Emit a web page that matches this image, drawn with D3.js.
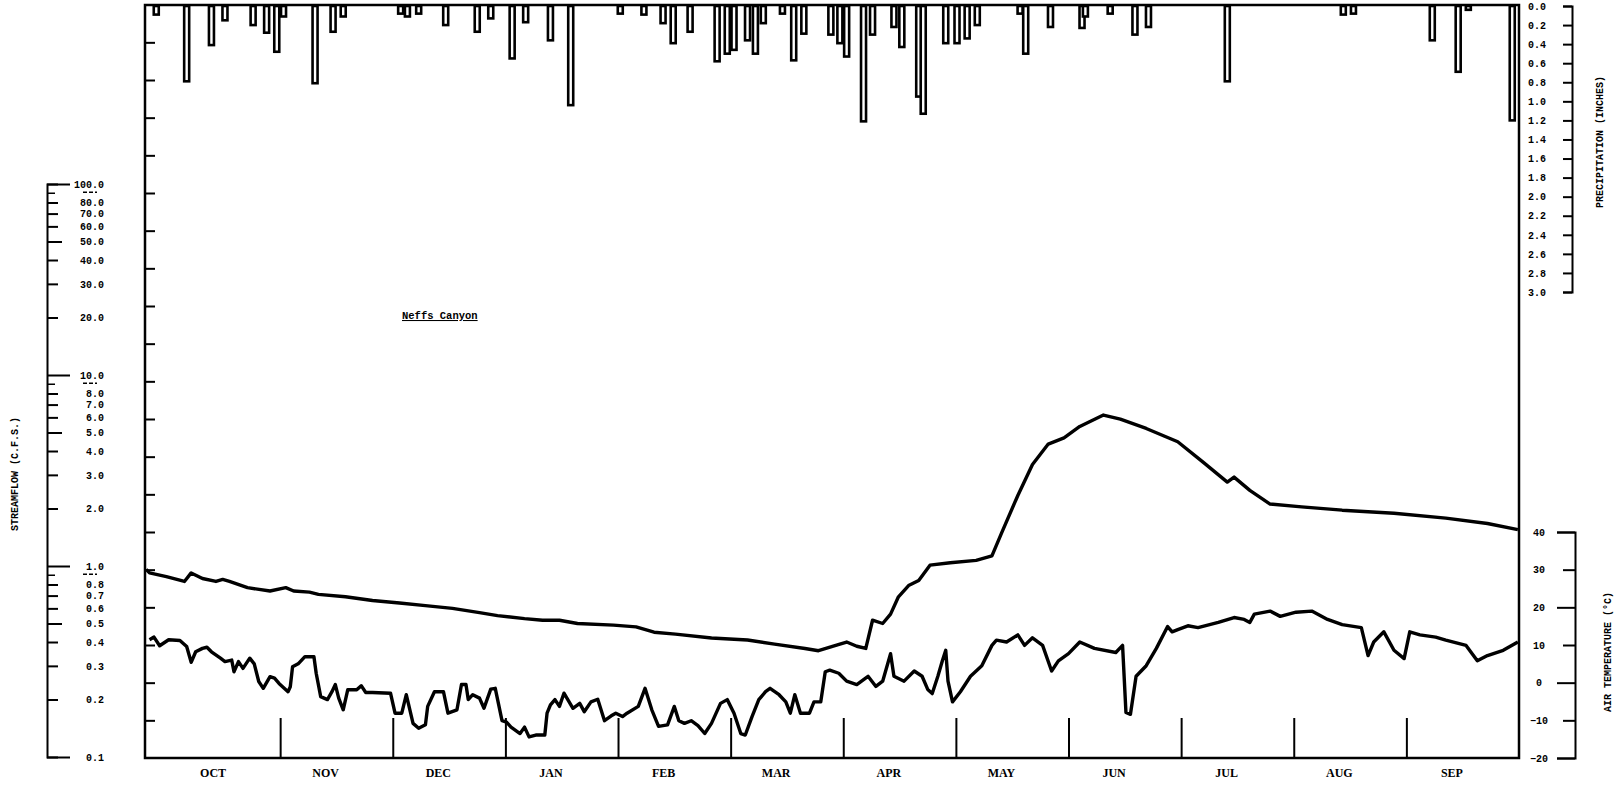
<!DOCTYPE html>
<html>
<head>
<meta charset="utf-8">
<script src="https://cdn.jsdelivr.net/npm/d3@7"></script>
<style>
  body { margin: 0; background: #fff; }
  svg { display: block; }
  .mono { font-family: "Liberation Mono", "DejaVu Sans Mono", monospace; font-weight: bold; }
</style>
</head>
<body>
<svg id="chart" width="1619" height="788"></svg>
<script>
// Water-year months (position 0 = Oct 1, 12 = Sep 30 end)
const months = ["OCT","NOV","DEC","JAN","FEB","MAR","APR","MAY","JUN","JUL","AUG","SEP"];

// Streamflow (c.f.s.), position in months
const flowPos = [-0.19,-0.16,-0.01,0.15,0.21,0.31,0.43,0.49,0.55,0.71,0.91,1.05,1.12,1.26,1.34,1.58,1.82,2.06,2.29,2.53,2.77,2.93,3.17,3.33,3.48,3.64,3.96,4.16,4.32,4.51,4.83,5.15,5.39,5.66,5.78,5.97,
  6.03,6.12,6.20,6.26,6.35,6.42,6.49,6.58,6.67,6.77,6.95,7.18,7.32,7.41,7.55,7.68,7.82,7.96,8.10,8.31,8.46,8.69,8.97,9.20,9.41,9.47,9.61,9.79,10.07,10.43,10.89,11.35,11.72,11.99];
const flowCfs = [0.96,0.92,0.88,0.83,0.92,0.86,0.83,0.85,0.83,0.77,0.74,0.77,0.74,0.73,0.71,0.69,0.66,0.64,0.62,0.60,0.57,0.55,0.53,0.52,0.52,0.50,0.49,0.48,0.45,0.44,0.42,0.41,0.39,0.37,0.36,0.39,
  0.40,0.38,0.37,0.52,0.50,0.56,0.69,0.79,0.84,1.01,1.04,1.07,1.13,1.51,2.34,3.40,4.35,4.69,5.38,6.17,5.87,5.25,4.47,3.48,2.75,2.92,2.49,2.11,2.04,1.96,1.89,1.78,1.67,1.55];

// Daily air temperature (°C), position in months
const tempPos = [-0.16,-0.12,-0.07,0.01,0.11,0.17,0.21,0.25,0.31,0.35,0.39,0.47,0.51,0.57,0.59,0.63,0.67,0.73,0.77,0.81,0.85,0.91,0.95,0.99,1.07,1.09,1.11,1.16,1.22,1.30,1.32,1.36,1.42,1.46,1.49,1.52,1.56,1.60,1.68,1.72,1.76,1.82,1.98,2.02,2.08,2.12,2.18,2.23,2.29,2.31,2.37,2.45,2.49,2.57,2.61,2.65,2.67,2.71,2.77,2.81,2.87,2.91,2.97,3.01,3.05,3.13,3.17,3.21,3.27,3.35,3.37,3.40,3.44,3.48,3.52,3.60,3.66,3.70,3.76,3.82,3.88,3.94,3.98,4.04,4.08,4.18,4.24,4.30,4.36,4.44,4.50,4.54,4.59,4.65,4.71,4.77,4.83,4.91,4.97,5.03,5.09,5.13,5.19,5.25,5.31,5.35,5.43,5.49,5.53,5.57,5.62,5.70,5.74,5.80,5.84,5.88,5.96,
  6.03,6.12,6.22,6.29,6.35,6.42,6.45,6.54,6.63,6.70,6.75,6.79,6.84,6.88,6.91,6.93,6.97,7.04,7.13,7.23,7.32,7.36,7.45,7.55,7.61,7.68,7.77,7.85,7.91,8.00,8.10,8.23,8.42,8.48,8.51,8.55,8.60,8.69,8.78,8.88,8.92,8.97,9.06,9.15,9.33,9.47,9.56,9.61,9.65,9.79,9.88,10.02,10.16,10.30,10.43,10.60,10.66,10.71,10.80,10.89,10.98,11.03,11.12,11.26,11.35,11.53,11.63,11.72,11.86,11.99];
const tempC = [11.4,12.1,9.8,11.4,11.2,9.6,5.4,8.2,9.1,9.4,8.2,6.5,5.6,6.0,2.9,5.6,3.8,6.5,5.0,0.3,-1.5,1.6,1.2,-0.2,-2.4,-1.1,4.2,5.0,6.9,6.9,2.5,-3.7,-4.5,-2.4,-0.5,-4.1,-7.2,-1.9,-1.9,-0.8,-2.6,-2.6,-2.8,-8.1,-8.1,-3.2,-10.8,-12.1,-11.2,-6.3,-2.4,-2.4,-8.1,-7.2,-0.5,-0.5,-4.5,-3.2,-4.1,-6.8,-1.7,-1.5,-10.1,-10.5,-11.8,-13.5,-11.8,-14.4,-13.9,-13.9,-8.1,-5.9,-4.5,-6.3,-2.8,-6.8,-5.5,-7.7,-5.1,-4.4,-10.1,-8.8,-8.1,-9.0,-8.1,-6.3,-1.5,-7.2,-11.6,-11.2,-6.3,-10.1,-10.8,-10.1,-11.4,-13.5,-10.8,-5.5,-4.5,-8.1,-13.5,-13.9,-9.0,-4.5,-2.4,-1.5,-3.2,-5.1,-8.1,-3.2,-8.1,-8.1,-5.1,-5.1,2.9,3.3,2.5,
  0.4,-0.5,1.7,-1.0,0.4,7.7,1.7,0.4,3.1,1.7,-1.8,-2.9,1.7,5.8,8.6,0.4,-5.1,-2.4,1.7,4.5,9.9,11.3,10.8,12.7,9.9,11.9,9.9,3.1,5.8,7.7,10.8,9.1,8.0,9.9,-7.9,-8.4,1.7,4.5,9.1,14.9,13.5,14.1,15.1,14.6,16.0,17.3,16.8,16.0,18.2,19.0,17.6,18.7,19.0,16.8,15.4,14.6,7.2,10.8,13.5,8.6,6.4,13.5,12.7,12.1,11.3,9.9,5.8,7.2,8.6,10.8];

// Daily precipitation (inches), position in months
const rainPos = [-0.10,0.17,0.39,0.51,0.76,0.88,0.97,1.03,1.31,1.47,1.56,2.07,2.13,2.23,2.47,2.75,2.87,3.06,3.18,3.40,3.58,4.02,4.23,4.40,4.49,4.64,4.88,4.97,5.03,5.15,5.22,5.29,5.46,5.56,5.65,5.89,5.97,6.03,6.18,6.26,6.45,6.52,6.67,6.71,6.91,7.01,7.10,7.19,7.57,7.62,7.84,8.12,8.15,8.37,8.59,8.71,9.41,10.44,10.53,11.23,11.46,11.55,11.94];
const rainIn = [0.09,0.79,0.41,0.15,0.20,0.28,0.48,0.11,0.81,0.27,0.11,0.08,0.11,0.08,0.20,0.27,0.13,0.55,0.17,0.36,1.04,0.08,0.09,0.18,0.39,0.27,0.58,0.50,0.46,0.36,0.50,0.18,0.08,0.57,0.29,0.30,0.39,0.53,1.21,0.30,0.22,0.43,0.95,1.13,0.39,0.39,0.34,0.20,0.08,0.50,0.22,0.23,0.11,0.08,0.30,0.22,0.79,0.09,0.08,0.36,0.69,0.04,1.20];

// Axis tick values
const flowTicks = [0.1,0.2,0.3,0.4,0.5,0.6,0.7,0.8,1,2,3,4,5,6,7,8,10,20,30,40,50,60,70,80,100];
const flowDashTicks = [0.9,9,90];
const rainTicks = d3.range(0, 3.01, 0.2);
const tempTicks = [-20,-10,0,10,20,30,40];
const gridTemps = d3.range(-10, 171, 10);

const svg = d3.select("#chart");

const x = d3.scaleLinear().domain([-0.2, 12]).range([145, 1519]);
const yFlow = d3.scaleLog().domain([0.1, 100]).range([757, 184]);
const yRain = d3.scaleLinear().domain([0, 3]).range([6, 292]);
const yTemp = d3.scaleLinear().domain([-20, 40]).range([758, 532]);

// Precipitation bars hanging from the top edge
svg.append("g").selectAll("rect")
  .data(rainPos.map((p, i) => [p, rainIn[i]]))
  .join("rect")
  .attr("x", d => x(d[0]) - 2.5)
  .attr("y", yRain(0))
  .attr("width", 5)
  .attr("height", d => yRain(d[1]) - yRain(0))
  .attr("fill", "#fff")
  .attr("stroke", "#000")
  .attr("stroke-width", 2.6);

// Plot frame
svg.append("rect")
  .attr("x", 145).attr("y", 5)
  .attr("width", 1519 - 145).attr("height", 758 - 5)
  .attr("fill", "none").attr("stroke", "#000").attr("stroke-width", 2.5);

// Inside ticks on the left edge, on the temperature spacing
const gridAxis = svg.append("g")
  .attr("transform", "translate(145,0)")
  .call(d3.axisRight(yTemp).tickValues(gridTemps).tickSize(10).tickFormat(""));
gridAxis.select(".domain").remove();
gridAxis.selectAll("line").attr("stroke-width", 2);

// Month boundary ticks
const monthAxis = svg.append("g")
  .attr("transform", "translate(0,758)")
  .call(d3.axisBottom(x).tickValues(d3.range(1, 12)).tickSize(-40).tickFormat(""));
monthAxis.select(".domain").remove();
monthAxis.selectAll("line").attr("stroke-width", 2);

// Month names
const monthLabels = svg.append("g")
  .attr("transform", "translate(0,765)")
  .call(d3.axisBottom(x).tickValues(d3.range(12).map(i => i + 0.4)).tickSize(0)
    .tickFormat((d, i) => months[i]));
monthLabels.select(".domain").remove();
monthLabels.selectAll("text")
  .attr("font-family", "'Liberation Serif', 'DejaVu Serif', serif")
  .attr("font-weight", "bold").attr("font-size", 12).attr("fill", "#000");

// Streamflow line
svg.append("path")
  .datum(flowPos.map((p, i) => [p, flowCfs[i]]))
  .attr("fill", "none").attr("stroke", "#000").attr("stroke-width", 3.4)
  .attr("stroke-linejoin", "round")
  .attr("d", d3.line().x(d => x(d[0])).y(d => yFlow(d[1])));

// Air temperature line
svg.append("path")
  .datum(tempPos.map((p, i) => [p, tempC[i]]))
  .attr("fill", "none").attr("stroke", "#000").attr("stroke-width", 3.4)
  .attr("stroke-linejoin", "round")
  .attr("d", d3.line().x(d => x(d[0])).y(d => yTemp(d[1])));

// Streamflow axis (log)
const bigFlow = new Set([1, 10, 100, 0.1]);
const midFlow = new Set([0.5, 5, 50]);
const flowAxis = svg.append("g")
  .attr("transform", "translate(47,0)")
  .call(d3.axisRight(yFlow).tickValues(flowTicks).tickSize(11)
    .tickFormat(d3.format(".1f")));
flowAxis.select(".domain").attr("stroke-width", 2);
flowAxis.selectAll(".tick line")
  .attr("stroke-width", 2)
  .attr("x2", d => bigFlow.has(d) ? 23 : midFlow.has(d) ? 15 : 11);
flowAxis.selectAll(".tick text")
  .attr("class", "mono").attr("font-size", 10).attr("fill", "#000")
  .attr("text-anchor", "end").attr("x", 57);
// short unlabelled ticks with dash marks
const dashAxis = svg.append("g")
  .attr("transform", "translate(47,0)")
  .call(d3.axisRight(yFlow).tickValues(flowDashTicks).tickSize(8).tickFormat(""));
dashAxis.select(".domain").remove();
dashAxis.selectAll(".tick line").attr("stroke-width", 1.5);
dashAxis.selectAll(".tick").append("line")
  .attr("x1", 36).attr("x2", 50).attr("y1", -1).attr("y2", -1)
  .attr("stroke", "#000").attr("stroke-width", 1.5).attr("stroke-dasharray", "4,2");

svg.append("text")
  .attr("class", "mono").attr("font-size", 10)
  .attr("transform", "translate(18,474) rotate(-90)")
  .attr("text-anchor", "middle")
  .text("STREAMFLOW (C.F.S.)");

// Precipitation axis
const rainAxis = svg.append("g")
  .attr("transform", "translate(1572,0)")
  .call(d3.axisLeft(yRain).tickValues(rainTicks).tickSize(9).tickFormat(d3.format(".1f")));
rainAxis.select(".domain").attr("stroke-width", 2);
rainAxis.selectAll(".tick line").attr("stroke-width", 2);
rainAxis.selectAll(".tick text")
  .attr("class", "mono").attr("font-size", 10).attr("fill", "#000")
  .attr("x", -26);

svg.append("text")
  .attr("class", "mono").attr("font-size", 10)
  .attr("transform", "translate(1603,142) rotate(-90)")
  .attr("text-anchor", "middle")
  .text("PRECIPITATION (INCHES)");

// Air temperature axis
const tempAxis = svg.append("g")
  .attr("transform", "translate(1575,0)")
  .call(d3.axisLeft(yTemp).tickValues(tempTicks).tickSize(18).tickFormat(d3.format("d")));
tempAxis.select(".domain").attr("stroke-width", 2);
tempAxis.selectAll(".tick line").attr("stroke-width", 2)
  .attr("x2", d => (d / 10) % 2 === 0 ? -18 : -12);
tempAxis.selectAll(".tick text")
  .attr("class", "mono").attr("font-size", 10).attr("fill", "#000")
  .attr("text-anchor", "middle").attr("x", -36);

svg.append("text")
  .attr("class", "mono").attr("font-size", 10)
  .attr("transform", "translate(1611,652) rotate(-90)")
  .attr("text-anchor", "middle")
  .text("AIR TEMPERATURE (°C)");

// Station name
svg.append("text")
  .attr("class", "mono").attr("font-size", 10.5)
  .attr("x", 402).attr("y", 319)
  .attr("text-decoration", "underline")
  .text("Neffs Canyon");
</script>
</body>
</html>
